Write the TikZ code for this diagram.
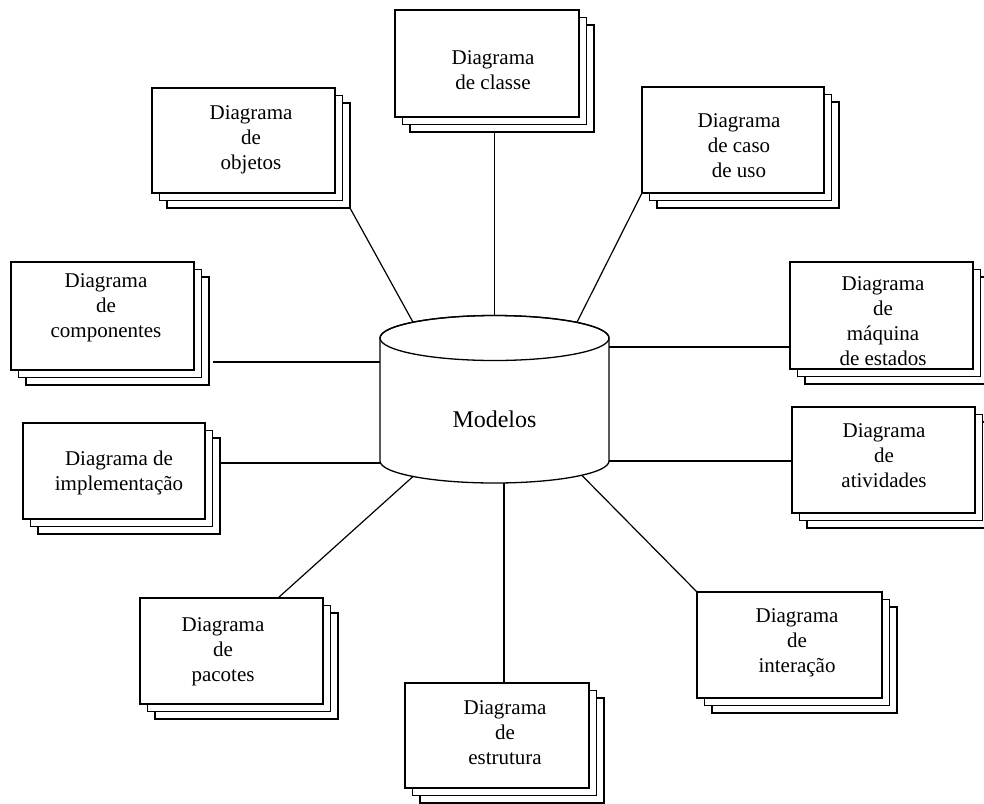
\documentclass[tikz,border=0pt]{standalone}
\usepackage{fontspec}
\setmainfont{Liberation Serif}
\usetikzlibrary{calc}
\newcommand\stackcard[5]{%
  \node[card, minimum width=#4pt, minimum height=#5pt] (#1c) at ({#2+15},{#3+15}) {};
  \node[card, minimum width=#4pt, minimum height=#5pt] (#1b) at ({#2+7.5},{#3+7.5}) {};
  \node[card, minimum width=#4pt, minimum height=#5pt] (#1) at (#2,#3) {};
}
\begin{document}
\begin{tikzpicture}[x=1pt,y=-1pt,
  card/.style={draw, fill=white, line width=1.4pt, inner sep=0pt, outer sep=0pt, anchor=north west},
  lbl/.style={align=center, anchor=north, inner sep=0pt, font=\fontsize{21}{25}\selectfont},
  link/.style={line width=1.2pt},
  cyl/.style={line width=1.3pt}]
\useasboundingbox (0,0) rectangle (984,803);
\clip (0,0) rectangle (984,803);

% cylinder
\draw[cyl, fill=white] (380,338) -- (380,461)
  arc[start angle=180, end angle=360, x radius=114.5pt, y radius=22pt]
  -- (609,338)
  arc[start angle=0, end angle=180, x radius=114.5pt, y radius=22.5pt] -- cycle;
\draw[cyl] (494.5,338) ellipse[x radius=114.5pt, y radius=22.5pt];
\node[inner sep=0pt, anchor=base, font=\fontsize{24}{28}\selectfont] (modelos) at (494.5,427) {Modelos};

% connection points on the cylinder
\coordinate (cTop) at (494.5,315.5);
\coordinate (cTL) at (413,322.2);
\coordinate (cTR) at (577,322.2);
\coordinate (cR1) at (609,347);
\coordinate (cR2) at (609,461);
\coordinate (cBR) at (582,475.5);
\coordinate (cBot) at (504,483);
\coordinate (cBL) at (413,476.5);
\coordinate (cL2) at (380,463);
\coordinate (cL1) at (380,362);

% cards
\stackcard{classe}{395}{10}{184}{107}
\stackcard{objetos}{152}{88}{183}{105}
\stackcard{caso}{642}{87}{182}{106}
\stackcard{maquina}{790}{262}{183}{107}
\stackcard{atividades}{792}{407}{183}{106}
\stackcard{interacao}{697}{592}{185}{106}
\stackcard{estrutura}{405}{683}{184}{105}
\stackcard{pacotes}{140}{598}{183}{106}
\stackcard{implementacao}{23}{423}{182}{96}
\stackcard{componentes}{11}{262}{183}{108}

% labels
\node[lbl] (tclasse) at (493,50.7) {Diagrama\\de classe};
\node[lbl] (tobjetos) at (251,105.7) {Diagrama\\de\\objetos};
\node[lbl] (tcaso) at (739,113.7) {Diagrama\\de caso\\de uso};
\node[lbl] (tmaquina) at (883,276.7) {Diagrama\\de\\máquina\\de estados};
\node[lbl] (tatividades) at (884,423.7) {Diagrama\\de\\atividades};
\node[lbl] (tinteracao) at (797,608.7) {Diagrama\\de\\interação};
\node[lbl] (testrutura) at (505,700.7) {Diagrama\\de\\estrutura};
\node[lbl] (tpacotes) at (223,617.7) {Diagrama\\de\\pacotes};
\node[lbl] (timplementacao) at (119,450.7) {Diagrama de\\implementação};
\node[lbl] (tcomponentes) at (106,273.7) {Diagrama\\de\\componentes};

% connectors
\draw[link] (cTop) -- (cTop |- classec.south);
\draw[link] (cTL) -- (objetosc.south east);
\draw[link] (cTR) -- (caso.south west);
\draw[link] (cR1) -- (cR1 -| maquina.west);
\draw[link] (cR2) -- (cR2 -| atividades.west);
\draw[link] (cBR) -- (interacao.north west);
\draw[link] (cBot) -- (cBot |- estrutura.north);
\draw[link] (cBL) -- ($(pacotes.north west)+(138,0)$);
\draw[link] (cL2) -- (cL2 -| implementacaoc.east);
\draw[link] (cL1) -- ($(cL1 -| componentesc.east)+(4,0)$);
\end{tikzpicture}
\end{document}
